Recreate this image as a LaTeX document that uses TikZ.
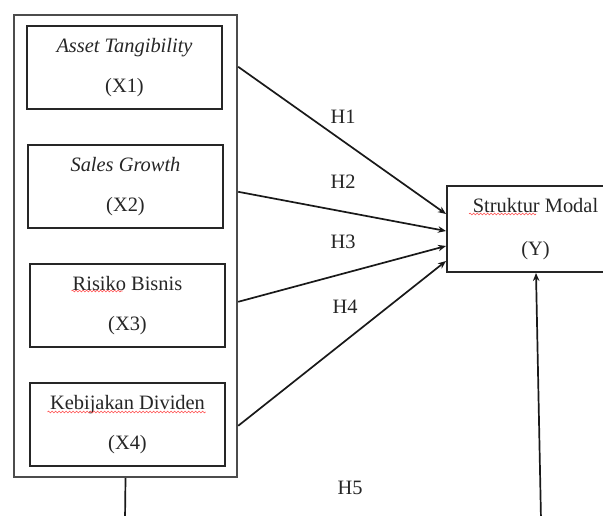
\documentclass[tikz,border=0pt]{standalone}
\usepackage{fontspec}
\setmainfont{Liberation Serif}
\usetikzlibrary{arrows.meta,calc,decorations.pathmorphing}
\begin{document}
\begin{tikzpicture}[x=1bp,y=-1bp,
  txt/.style={font=\fontsize{20.5}{40}\selectfont, text=black!85, align=center},
  varbox/.style={txt, draw=black!85, line width=2bp, minimum width=195bp, minimum height=83bp, inner sep=0pt},
  outerbox/.style={draw=black!70, line width=2.4bp},
  arr/.style={draw=black!90, line width=1.7bp, -{Stealth[length=8bp,width=6.5bp]}},
  lbl/.style={font=\fontsize{20.5}{24}\selectfont, text=black!85},
  squig/.style={draw=red!70, line width=0.6bp, decorate, decoration={snake, amplitude=0.9bp, segment length=3.5bp}}]
\useasboundingbox (0,0) rectangle (603,516);
\clip (0,0) rectangle (603,516);
\fill[white] (0,0) rectangle (603,516);

\node[outerbox, minimum width=223bp, minimum height=462bp, inner sep=0pt] (outer) at (125.5,246) {};

\node[varbox] (x1) at (124.5,67.5) {\textit{Asset Tangibility}\\(X1)};
\node[varbox] (x2) at (125.5,186.5) {\textit{Sales Growth}\\(X2)};
\node[varbox] (x3) at (127.5,305.5) {Risiko Bisnis\\(X3)};
\node[varbox] (x4) at (127.5,424.5) {Kebijakan Dividen\\(X4)};

\node[varbox, minimum width=177bp, minimum height=86bp, font=\fontsize{20.5}{43}\selectfont] (y) at (535.5,229) {Struktur Modal\\(Y)};

\draw[squig] ($(x3.center)+(-56,-14.5)$) -- ($(x3.center)+(-5,-14.5)$);
\draw[squig] ($(x4.center)+(-80,-12.5)$) -- ($(x4.center)+(78,-12.5)$);
\draw[squig] ($(y.center)+(-66.5,-15)$) -- ($(y.center)+(0.5,-15)$);

\draw[arr] ($(outer.north east)+(0,53)$) -- ($(y.north west)+(0,29)$);
\draw[arr] ($(outer.north east)+(0,178)$) -- ($(y.north west)+(0,46)$);
\draw[arr] ($(outer.north east)+(0,288)$) -- ($(y.north west)+(0,61)$);
\draw[arr] ($(outer.north east)+(0,412)$) -- ($(y.north west)+(0,76)$);

\node[lbl] (h1) at (343,117) {H1};
\node[lbl] (h2) at (343,182) {H2};
\node[lbl] (h3) at (343,242) {H3};
\node[lbl] (h4) at (345,307) {H4};
\node[lbl] (h5) at (350,488) {H5};

\coordinate (b1) at (125,520);
\coordinate (b2) at (541,520);
\draw[draw=black!90, line width=1.7bp] (outer.south) -- (b1);
\draw[arr] (b2) -- ($(y.south west)+(90,0)$);
\end{tikzpicture}
\end{document}
